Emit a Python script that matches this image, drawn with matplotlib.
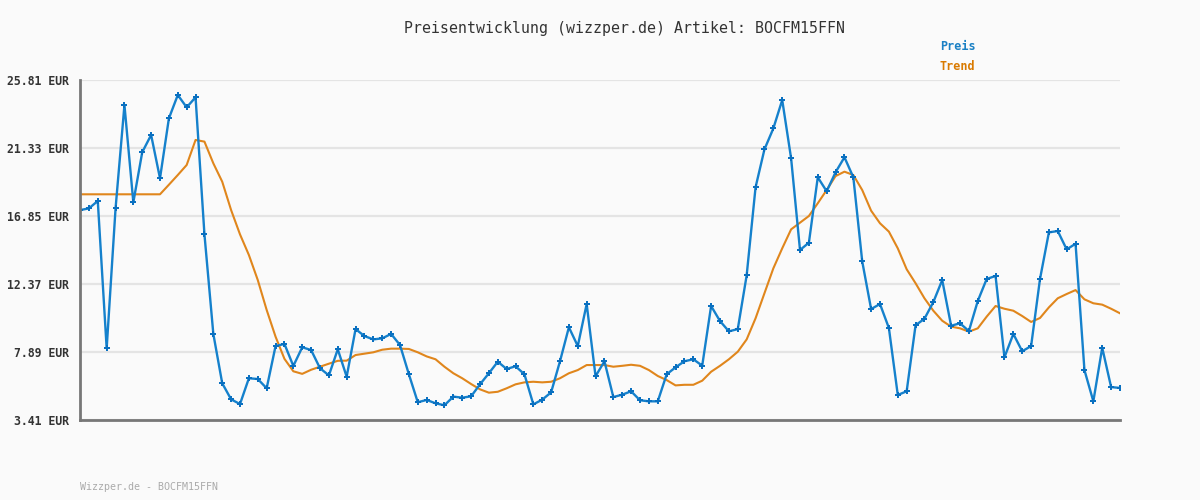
import numpy as np
import matplotlib as mpl
import matplotlib.pyplot as plt

mpl.rcParams['font.family'] = 'DejaVu Sans Mono'

TITLE = "Preisentwicklung (wizzper.de) Artikel: BOCFM15FFN"
FOOTER = "Wizzper.de - BOCFM15FFN"
Y_TICKS = [3.41, 7.89, 12.37, 16.85, 21.33, 25.81]

preis = [17.24, 17.35, 17.84, 8.13, 17.35, 24.16, 17.75, 21.05, 22.19, 19.33,
         23.28, 24.82, 24.01, 24.67, 15.64, 9.08, 5.83, 4.77, 4.46, 6.16,
         6.11, 5.50, 8.28, 8.42, 6.97, 8.20, 8.02, 6.82, 6.35, 8.07,
         6.26, 9.40, 8.94, 8.72, 8.79, 9.08, 8.35, 6.42, 4.58, 4.73,
         4.51, 4.38, 4.95, 4.88, 4.97, 5.76, 6.49, 7.25, 6.77, 6.95,
         6.42, 4.44, 4.75, 5.23, 7.28, 9.52, 8.28, 11.05, 6.29, 7.28,
         4.92, 5.08, 5.30, 4.71, 4.64, 4.64, 6.42, 6.88, 7.28, 7.41,
         6.99, 10.92, 9.93, 9.25, 9.40, 12.94, 18.74, 21.24, 22.62, 24.49,
         20.65, 14.61, 15.09, 19.40, 18.48, 19.73, 20.72, 19.40, 13.86, 10.72,
         11.05, 9.47, 5.06, 5.30, 9.65, 10.08, 11.18, 12.63, 9.62, 9.78,
         9.27, 11.25, 12.70, 12.90, 7.54, 9.08, 7.94, 8.28, 12.70, 15.77,
         15.86, 14.65, 15.02, 6.70, 4.64, 8.17, 5.58, 5.52]

trend = [18.28, 18.28, 18.28, 18.28, 18.28, 18.28, 18.28, 18.28, 18.28, 18.28,
         18.91, 19.55, 20.21, 21.86, 21.75, 20.32, 19.11, 17.24, 15.64, 14.28,
         12.63, 10.66, 8.90, 7.44, 6.62, 6.45, 6.72, 6.92, 7.12, 7.31,
         7.32, 7.69, 7.78, 7.87, 8.04, 8.11, 8.11, 8.09, 7.87, 7.60,
         7.41, 6.92, 6.49, 6.16, 5.78, 5.43, 5.21, 5.27, 5.50, 5.76,
         5.89, 5.93, 5.89, 5.93, 6.16, 6.49, 6.70, 7.03, 7.03, 7.03,
         6.92, 6.98, 7.05, 6.98, 6.70, 6.31, 6.04, 5.69, 5.73, 5.73,
         6.00, 6.59, 6.98, 7.41, 7.91, 8.72, 10.11, 11.76, 13.40, 14.72,
         15.97, 16.41, 16.85, 17.69, 18.56, 19.48, 19.77, 19.55, 18.56, 17.20,
         16.37, 15.82, 14.72, 13.34, 12.42, 11.43, 10.61, 9.95, 9.56, 9.45,
         9.23, 9.45, 10.22, 10.92, 10.74, 10.61, 10.26, 9.87, 10.13, 10.83,
         11.43, 11.71, 11.97, 11.36, 11.10, 11.01, 10.74, 10.44]

BG = '#fafafa'
BLUE = '#1581cc'
ORANGE = '#e0861c'

x = np.arange(len(preis))

fig = plt.figure(figsize=(12, 5), dpi=100, facecolor=BG)
ax = fig.add_axes([80/1200, 80/500, 1040/1200, 340/500], facecolor=BG)

ax.plot(x, trend, color=ORANGE, lw=1.5, zorder=3)
ax.plot(x, preis, color=BLUE, lw=1.7, marker='P', ms=4, mew=0,
        mfc='#0a70c0', zorder=4)

ax.set_xlim(0, len(preis) - 1)
ax.set_ylim(Y_TICKS[0], Y_TICKS[-1])
ax.set_yticks(Y_TICKS)
ax.set_yticklabels(['{:.2f} EUR'.format(v) for v in Y_TICKS],
                   fontsize=8.3, fontweight='bold', color='#333333')
ax.set_xticks([])
ax.tick_params(axis='y', length=0, pad=8)
ax.grid(axis='y', color='#e4e4e4', lw=1.6, zorder=0)

for s in ['top', 'right']:
    ax.spines[s].set_visible(False)
for s in ['left', 'bottom']:
    ax.spines[s].set_color('#777777')
    ax.spines[s].set_linewidth(2)
    ax.spines[s].set_zorder(5)

fig.text(624/1200, 1 - 28/500, TITLE, ha='center', va='center',
         fontsize=10.7, color='#333333')
fig.text(940/1200, 1 - 47/500, 'Preis', ha='left', va='center',
         fontsize=8.5, fontweight='bold', color='#1a80c4')
fig.text(940/1200, 1 - 67/500, 'Trend', ha='left', va='center',
         fontsize=8.5, fontweight='bold', color='#d97a00')
fig.text(80/1200, 1 - 487/500, FOOTER, ha='left', va='center',
         fontsize=7.2, color='#aaaaaa')

fig.savefig('out.png', dpi=100, facecolor=BG)
